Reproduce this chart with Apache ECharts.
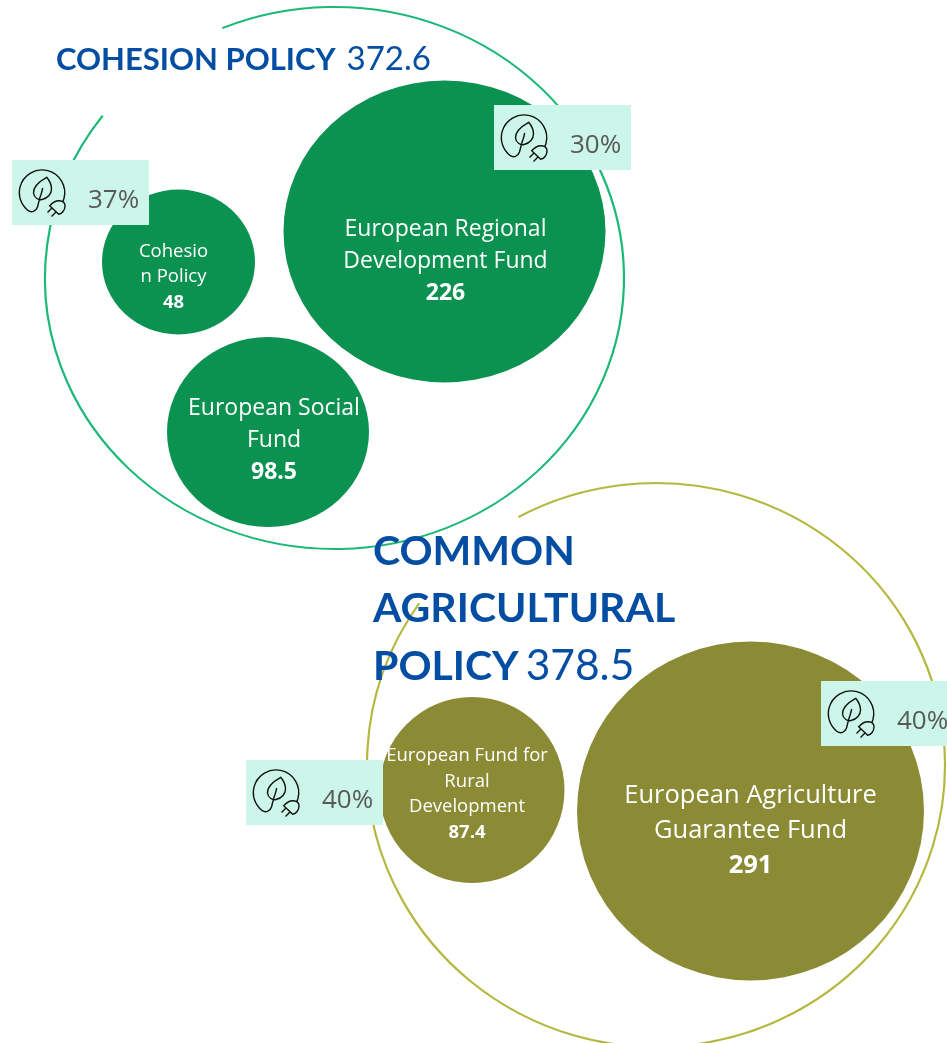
<!DOCTYPE html>
<html>
<head>
<meta charset="utf-8">
<title>EU funds</title>
<style>
  html, body { margin: 0; padding: 0; background: #fff; }
  #chart { width: 947px; height: 1043px; }
</style>
<script src="https://cdn.jsdelivr.net/npm/echarts@6/dist/echarts.min.js"></script>
</head>
<body>
<div id="chart"></div>
<script>
// values
var fundNames = [
  ["European Regional", "Development Fund"],
  ["Cohesio", "n Policy"],
  ["European Social", "Fund"],
  ["European Agriculture", "Guarantee Fund"],
  ["European Fund for", "Rural", "Development"]
];
var fundValues = [226, 48, 98.5, 291, 87.4];
var policyTotals = [372.6, 378.5];
var climateShares = [30, 37, 40, 40];

// layout, all in the 947x1043 space of the hidden axes
var bubbleX = [444.5, 178.5, 268, 750.5, 472];
var bubbleY = [231.5, 262, 432, 811, 790];
var bubbleW = [322, 153, 202, 347, 185];
var bubbleH = [302, 145, 190, 339, 186];
var labelDx = [1, -5, 6, 0, -5];
var labelDy = [30, 15, 8, 20, 4];
var labelSize = [23, 18.5, 23, 25.5, 18.5];
var labelLine = [32, 25.5, 32, 35, 25.5];
var bubbleColor = ["#0b9150", "#0b9150", "#0b9150", "#8b8b36", "#8b8b36"];

var ringX = [334.5, 656];
var ringY = [278, 765];
var ringRx = [289.5, 289];
var ringRy = [271, 282];
var ringStart = [-112.8, -118.4];
var ringEnd = [216.8, 215];
var ringColor = ["#1cb878", "#b5b840"];

var tagX = [494, 12, 246, 821];
var tagY = [105, 160, 760, 681];
var tagW = 137;
var tagH = 65;

// leaf with plug icon, drawn in a tagW x tagH box (the two empty lines hold the box size)
var iconPath = "M0 0L0 0M137 65L137 65" +
  "M52 38.3A22.7 22.7 0 1 0 16.3 50.7C19.5 52.8 24 51.5 25.5 47C26.5 43.5 27.5 38 29 34.5C29.8 32 30.3 30 30.7 28" +
  "M34.7 17.3C28 21 21 26 21.5 33C22 38 27 40.5 30 39.5C36 38.5 39.5 33.5 39.5 29C39.5 24 37 20 34.7 17.3Z" +
  "M37.7 45.7L46.7 54.3C50 54 53 50 53 46C53 43.5 51.5 41.5 49 41C45 40 41 42 37.7 45.7Z" +
  "M40 48L35.5 52.5M44 52L39.5 56.5M51 41.5L52 38.3";

var chart = echarts.init(document.getElementById("chart"));

function richLabel(i) {
  var lines = fundNames[i].map(function (t) { return "{n|" + t + "}"; });
  lines.push("{v|" + fundValues[i] + "}");
  return lines.join("\n");
}

var option = {
  animation: false,
  backgroundColor: "#fff",
  tooltip: { show: false },
  title: [
    {
      left: 56, top: 43, padding: 0,
      text: "{b|COHESION POLICY} {n|" + policyTotals[0] + "}",
      textStyle: {
        rich: {
          b: { fontFamily: "Lato", fontWeight: 700, fontSize: 31, color: "#034ea2" },
          n: { fontFamily: "Lato", fontWeight: 400, fontSize: 33, color: "#034ea2", padding: [0, 0, 0, 6] }
        }
      }
    },
    {
      left: 373, top: 523, padding: 0,
      text: "{b|COMMON}\n{b|AGRICULTURAL}\n{b|POLICY} {n|" + policyTotals[1] + "}",
      textStyle: {
        rich: {
          b: { fontFamily: "Lato", fontWeight: 700, fontSize: 41, lineHeight: 57.5, color: "#034ea2" },
          n: { fontFamily: "Lato", fontWeight: 400, fontSize: 42.5, lineHeight: 57.5, color: "#034ea2", padding: [0, 0, 0, 2] }
        }
      }
    }
  ],
  grid: { left: 0, right: 0, top: 0, bottom: 0 },
  xAxis: { type: "value", min: 0, max: 947, show: false },
  yAxis: { type: "value", min: 0, max: 1043, inverse: true, show: false },
  series: [
    {
      // outer policy rings, each with a gap behind the heading
      type: "custom",
      z: 1,
      silent: true,
      clip: false,
      data: policyTotals.map(function (v, i) { return [ringX[i], ringY[i], v]; }),
      renderItem: function (params, api) {
        var i = params.dataIndex;
        var c = api.coord([api.value(0), api.value(1)]);
        return {
          type: "arc",
          x: c[0],
          y: c[1],
          scaleY: ringRy[i] / ringRx[i],
          shape: {
            cx: 0, cy: 0, r: ringRx[i],
            startAngle: ringStart[i] * Math.PI / 180,
            endAngle: ringEnd[i] * Math.PI / 180,
            clockwise: true
          },
          style: { fill: null, stroke: ringColor[i], lineWidth: 2.2, strokeNoScale: true }
        };
      }
    },
    {
      type: "scatter",
      z: 2,
      silent: true,
      data: fundValues.map(function (v, i) {
        return {
          value: [bubbleX[i], bubbleY[i], v],
          symbolSize: [bubbleW[i], bubbleH[i]],
          itemStyle: { color: bubbleColor[i], opacity: 1 },
          label: {
            show: true,
            position: "inside",
            offset: [labelDx[i], labelDy[i]],
            align: "center",
            formatter: richLabel(i),
            rich: {
              n: { fontFamily: "Open Sans", fontSize: labelSize[i], lineHeight: labelLine[i], color: "#fff", align: "center" },
              v: { fontFamily: "Open Sans", fontWeight: 700, fontSize: labelSize[i], lineHeight: labelLine[i], color: "#fff", align: "center" }
            }
          }
        };
      })
    },
    {
      // mint climate tags
      type: "custom",
      z: 3,
      silent: true,
      clip: false,
      data: climateShares.map(function (v, i) { return [tagX[i], tagY[i], v]; }),
      renderItem: function (params, api) {
        var c = api.coord([api.value(0), api.value(1)]);
        return {
          type: "group",
          children: [
            {
              type: "rect",
              shape: { x: c[0], y: c[1], width: tagW, height: tagH },
              style: { fill: "#ccf6e9" }
            },
            {
              type: "path",
              shape: { pathData: iconPath, layout: "cover", x: c[0], y: c[1], width: tagW, height: tagH },
              style: { fill: null, stroke: "#111", lineWidth: 1.4 }
            },
            {
              type: "text",
              x: c[0] + 76,
              y: c[1] + 41,
              style: {
                text: api.value(2) + "%",
                fontFamily: "Open Sans",
                fontSize: 26,
                fill: "#595959",
                align: "left",
                verticalAlign: "middle"
              }
            }
          ]
        };
      }
    }
  ]
};

chart.setOption(option);
</script>
</body>
</html>
